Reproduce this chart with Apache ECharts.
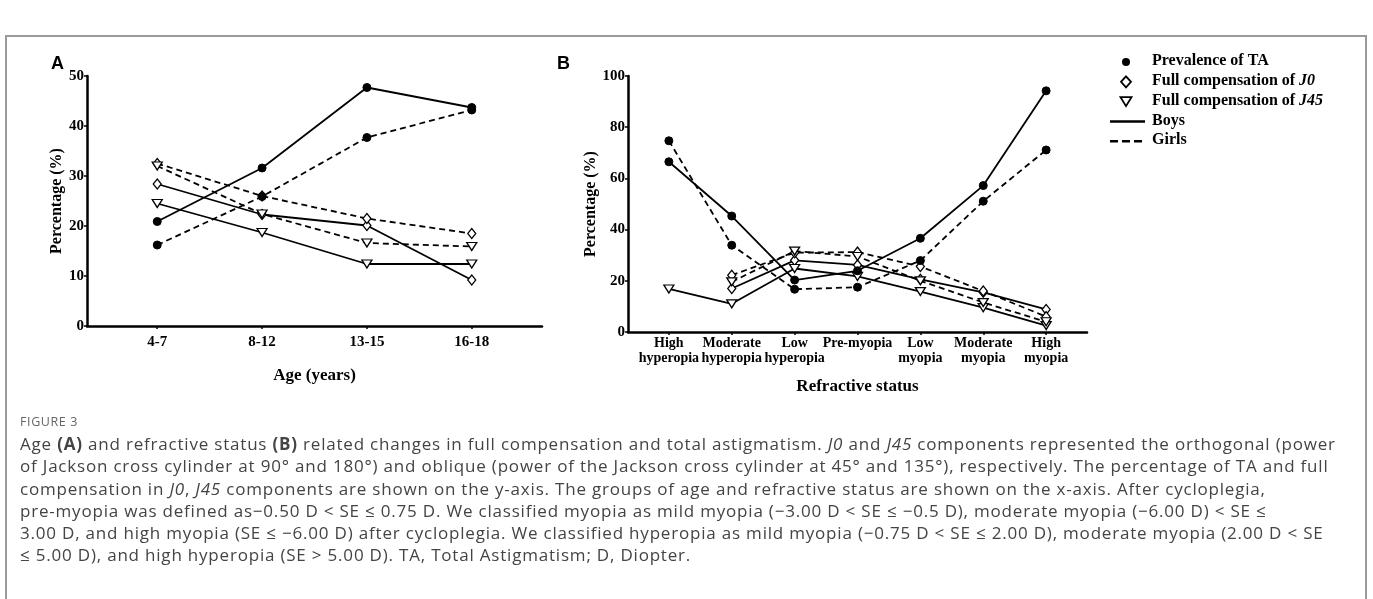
<!DOCTYPE html>
<html>
<head>
<meta charset="utf-8">
<script src="https://cdn.jsdelivr.net/npm/echarts@6/dist/echarts.min.js"></script>
<style>
  html, body { margin: 0; padding: 0; background: #fff; }
  #wrap { position: relative; width: 1373px; height: 599px; overflow: hidden; }
  #frame { position: absolute; left: 5px; top: 35px; width: 1362px; height: 600px; border: 2px solid #9a9a9a; border-bottom: none; box-sizing: border-box; }
  #chart { position: absolute; left: 0; top: 0; width: 1373px; height: 420px; }
  #cap { position: absolute; left: 20px; top: 413px; width: 1345px; font-family: "Open Sans", sans-serif; color: #444; white-space: nowrap; }
  #cap .fig { font-size: 12.5px; letter-spacing: 0.6px; color: #666; line-height: 18px; }
  #cap .txt { font-size: 17px; line-height: 22.3px; font-weight: 400; letter-spacing: 0.8px; margin-top: 2px; }
</style>
</head>
<body>
<div id="wrap">
  <div id="frame"></div>
  <div id="chart"></div>
  <div id="cap">
    <div class="fig">FIGURE 3</div>
    <div class="txt">Age <b>(A)</b> and refractive status <b>(B)</b> related changes in full compensation and total astigmatism. <i>J0</i> and <i>J45</i> components represented the orthogonal (power<br>of Jackson cross cylinder at 90° and 180°) and oblique (power of the Jackson cross cylinder at 45° and 135°), respectively. The percentage of TA and full<br>compensation in <i>J0</i>, <i>J45</i> components are shown on the y-axis. The groups of age and refractive status are shown on the x-axis. After cycloplegia,<br>pre-myopia was defined as−0.50 D &lt; SE ≤ 0.75 D. We classified myopia as mild myopia (−3.00 D &lt; SE ≤ −0.5 D), moderate myopia (−6.00 D) &lt; SE ≤<br>3.00 D, and high myopia (SE ≤ −6.00 D) after cycloplegia. We classified hyperopia as mild myopia (−0.75 D &lt; SE ≤ 2.00 D), moderate myopia (2.00 D &lt; SE<br>≤ 5.00 D), and high hyperopia (SE &gt; 5.00 D). TA, Total Astigmatism; D, Diopter.</div>
  </div>
</div>
<script>
// ---------- Data ----------
var ageGroups = ["4-7", "8-12", "13-15", "16-18"];
var boysTA_A   = [20.9, 31.6, 47.7, 43.7];
var girlsTA_A  = [16.2, 25.9, 37.7, 43.2];
var boysJ0_A   = [28.4, 22.3, 20.1, 9.2];
var girlsJ0_A  = [32.5, 26.0, 21.5, 18.5];
var boysJ45_A  = [24.5, 18.7, 12.4, 12.4];
var girlsJ45_A = [32.0, 22.4, 16.6, 15.9];

var refractive = ["High\nhyperopia", "Moderate\nhyperopia", "Low\nhyperopia", "Pre-myopia", "Low\nmyopia", "Moderate\nmyopia", "High\nmyopia"];
var boysTA_B   = [66.5, 45.3, 20.3, 23.9, 36.6, 57.2, 94.2];
var girlsTA_B  = [74.7, 33.9, 16.7, 17.5, 27.9, 51.1, 71.1];
var boysJ0_B   = [null, 17.0, 28.0, 26.2, 20.6, 15.5, 8.8];
var girlsJ0_B  = [null, 22.2, 31.0, 31.2, 25.6, 16.0, 6.0];
var boysJ45_B  = [16.8, 11.0, 24.8, 21.7, 15.8, 9.5, 2.5];
var girlsJ45_B = [null, 19.6, 31.6, 29.5, 20.0, 11.5, 4.0];

var yTicksA = [0, 10, 20, 30, 40, 50];
var yTicksB = [0, 20, 40, 60, 80, 100];

var legendItems = ["Prevalence of TA", "Full compensation of J0", "Full compensation of J45", "Boys", "Girls"];

// ---------- Helpers ----------
var SERIF = '"Liberation Serif", "Times New Roman", serif';
function pts(arr) {
  return arr.map(function (v, i) { return [i + 1, v]; });
}
var symCircle = { symbol: 'circle', symbolSize: 8, itemStyle: { color: '#000', borderColor: '#000', borderWidth: 1 } };
var symDiamond = { symbol: 'diamond', symbolSize: [8, 10], itemStyle: { color: '#fff', borderColor: '#000', borderWidth: 1.3 } };
var symTri = { symbol: 'triangle', symbolRotate: 180, symbolSize: [10, 8], itemStyle: { color: '#fff', borderColor: '#000', borderWidth: 1.3 } };

function mk(name, data, sym, dashed, gi) {
  return {
    name: name, type: 'line', xAxisIndex: gi, yAxisIndex: gi,
    data: pts(data), connectNulls: false,
    symbol: sym.symbol, symbolSize: sym.symbolSize, symbolRotate: sym.symbolRotate || 0,
    showSymbol: true, showAllSymbol: true,
    itemStyle: sym.itemStyle,
    lineStyle: { color: '#000', width: 1.8, type: dashed ? [6, 4] : 'solid' },
    emphasis: { disabled: true }, animation: false, z: sym.symbol === 'circle' ? 4 : 3
  };
}

function xAxisCfg(gi, cats, min, max, name, gap, fs, margin) {
  var vals = cats.map(function (c, i) { return i + 1; });
  return {
    type: 'value', gridIndex: gi, min: min, max: max,
    axisLine: { show: true, lineStyle: { color: '#000', width: 2.5 } },
    axisTick: { show: true, customValues: vals, length: 3, lineStyle: { color: '#000', width: 1.5 } },
    axisLabel: {
      show: true, customValues: vals, color: '#000', fontFamily: SERIF, fontWeight: 'bold', fontSize: fs,
      lineHeight: 15, margin: margin, showMinLabel: true, showMaxLabel: true, hideOverlap: false,
      formatter: function (v) { return cats[Math.round(v) - 1] || ''; }
    },
    splitLine: { show: false },
    name: name, nameLocation: 'middle', nameGap: gap,
    nameTextStyle: { color: '#000', fontFamily: SERIF, fontWeight: 'bold', fontSize: 17 }
  };
}
function yAxisCfg(gi, ticks, gap) {
  return {
    type: 'value', gridIndex: gi, min: ticks[0], max: ticks[ticks.length - 1], interval: ticks[1] - ticks[0],
    axisLine: { show: true, lineStyle: { color: '#000', width: 2.5 } },
    axisTick: { show: true, length: 3, lineStyle: { color: '#000', width: 1.5 } },
    axisLabel: { color: '#000', fontFamily: SERIF, fontWeight: 'bold', fontSize: 15, margin: 3 },
    splitLine: { show: false },
    name: 'Percentage (%)', nameLocation: 'middle', nameGap: gap, nameRotate: 90,
    nameTextStyle: { color: '#000', fontFamily: SERIF, fontWeight: 'bold', fontSize: 16 }
  };
}

var series = [
  mk('Boys TA', boysTA_A, symCircle, false, 0),
  mk('Girls TA', girlsTA_A, symCircle, true, 0),
  mk('Boys J0', boysJ0_A, symDiamond, false, 0),
  mk('Girls J0', girlsJ0_A, symDiamond, true, 0),
  mk('Boys J45', boysJ45_A, symTri, false, 0),
  mk('Girls J45', girlsJ45_A, symTri, true, 0),
  mk('Boys TA', boysTA_B, symCircle, false, 1),
  mk('Girls TA', girlsTA_B, symCircle, true, 1),
  mk('Boys J0', boysJ0_B, symDiamond, false, 1),
  mk('Girls J0', girlsJ0_B, symDiamond, true, 1),
  mk('Boys J45', boysJ45_B, symTri, false, 1),
  mk('Girls J45', girlsJ45_B, symTri, true, 1)
];

// legend drawn as graphic (symbols-only rows + line-style rows)
var lgX = 1126, lgY0 = 62, lgDy = 19.8;
var graphics = [
  { type: 'text', left: 51, top: 55, style: { text: 'A', font: 'bold 18px "Liberation Sans", Arial, sans-serif', fill: '#000' } },
  { type: 'text', left: 557, top: 55, style: { text: 'B', font: 'bold 18px "Liberation Sans", Arial, sans-serif', fill: '#000' } },
  { type: 'circle', shape: { cx: lgX, cy: lgY0, r: 4 }, style: { fill: '#000' } },
  { type: 'polygon', shape: { points: [[lgX, lgY0 + lgDy - 5.5], [lgX + 5, lgY0 + lgDy], [lgX, lgY0 + lgDy + 5.5], [lgX - 5, lgY0 + lgDy]] }, style: { fill: '#fff', stroke: '#000', lineWidth: 1.8 } },
  { type: 'polygon', shape: { points: [[lgX - 5.5, lgY0 + 2 * lgDy - 4.5], [lgX + 5.5, lgY0 + 2 * lgDy - 4.5], [lgX, lgY0 + 2 * lgDy + 4.5]] }, style: { fill: '#fff', stroke: '#000', lineWidth: 1.8 } },
  { type: 'line', shape: { x1: 1110, y1: lgY0 + 3 * lgDy, x2: 1145, y2: lgY0 + 3 * lgDy }, style: { stroke: '#000', lineWidth: 2.5 } },
  { type: 'line', shape: { x1: 1110, y1: lgY0 + 4 * lgDy, x2: 1145, y2: lgY0 + 4 * lgDy }, style: { stroke: '#000', lineWidth: 2.5, lineDash: [8, 4] } }
];
legendItems.forEach(function (t, i) {
  var txt;
  if (t.indexOf('J0') >= 0 || t.indexOf('J45') >= 0) {
    var parts = t.split('of ');
    txt = '{n|' + parts[0] + 'of }{i|' + parts[1] + '}';
  } else {
    txt = '{n|' + t + '}';
  }
  graphics.push({
    type: 'text', left: 1152, top: lgY0 + i * lgDy - 9,
    style: {
      text: txt,
      rich: {
        n: { font: 'bold 16px ' + SERIF, fill: '#000' },
        i: { font: 'italic bold 16px ' + SERIF, fill: '#000' }
      }
    }
  });
});

var chart = echarts.init(document.getElementById('chart'), null, { renderer: 'canvas' });
chart.setOption({
  animation: false,
  backgroundColor: 'transparent',
  grid: [
    { left: 87, top: 76, width: 455, height: 250 },
    { left: 628, top: 76, width: 459, height: 256 }
  ],
  xAxis: [
    xAxisCfg(0, ageGroups, 0.33, 4.67, 'Age (years)', 41, 15, 9),
    xAxisCfg(1, refractive, 0.35, 7.65, 'Refractive status', 46, 14, 4)
  ],
  yAxis: [
    yAxisCfg(0, yTicksA, 21),
    yAxisCfg(1, yTicksB, 28)
  ],
  series: series,
  graphic: graphics
});
</script>
</body>
</html>
